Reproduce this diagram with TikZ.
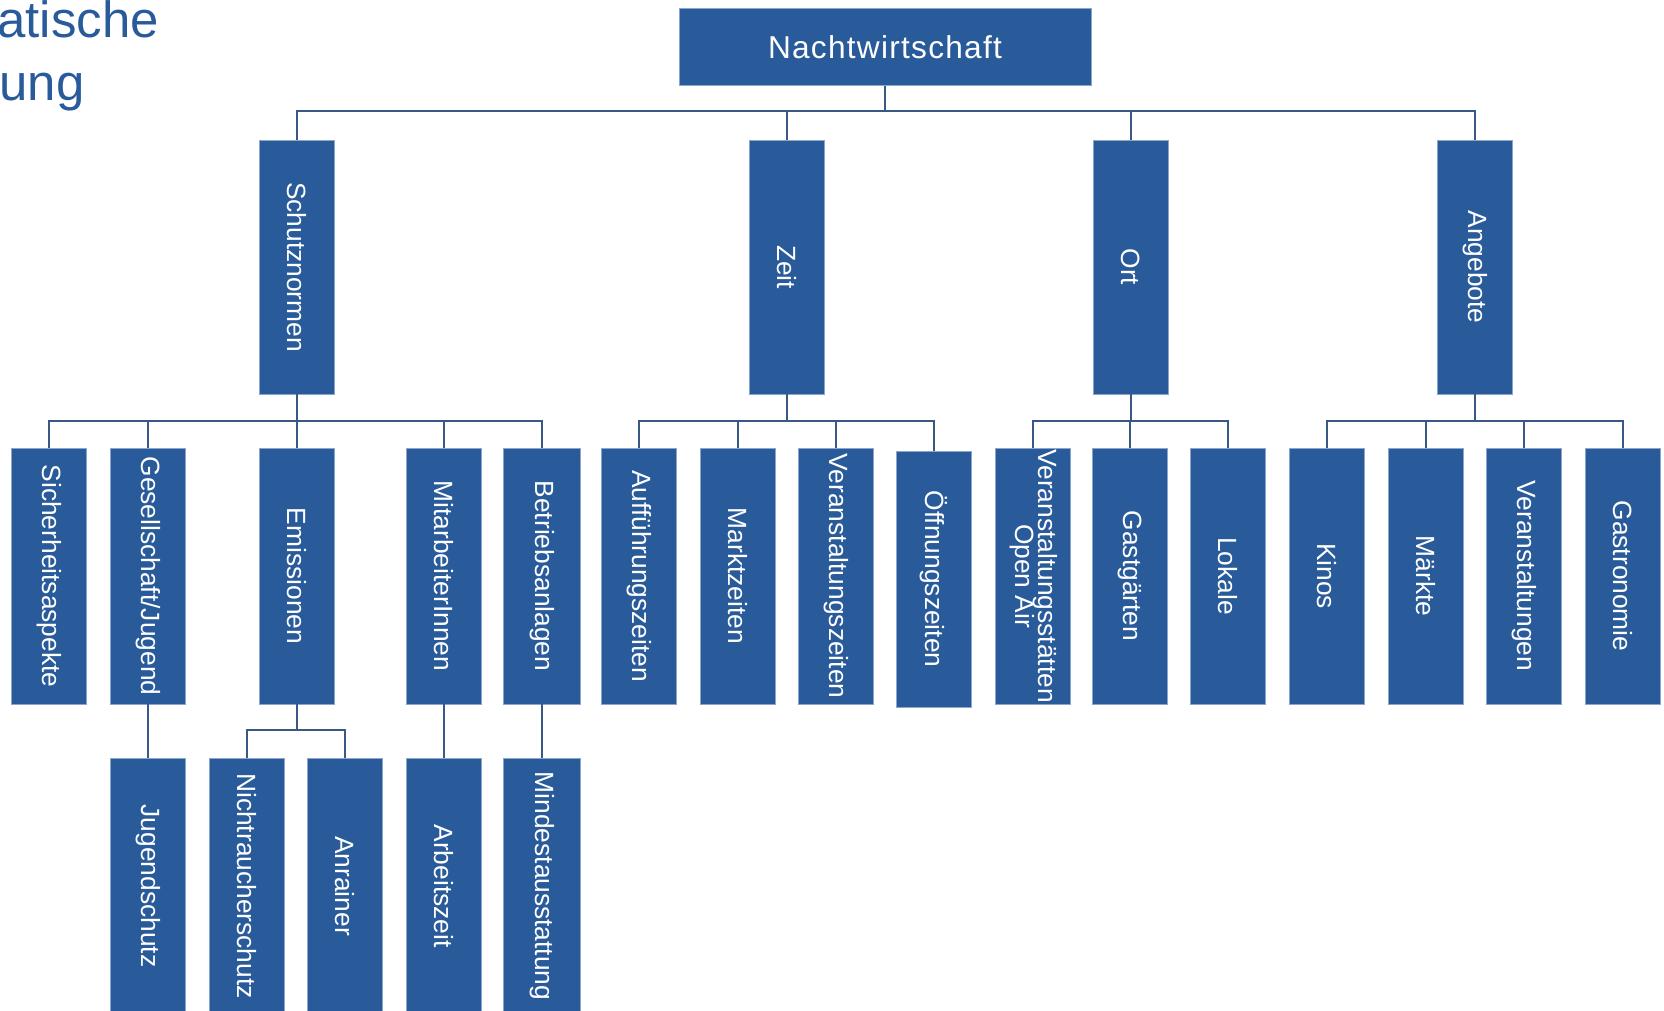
\documentclass[tikz,border=0pt]{standalone}
\usepackage{fontspec}
\setmainfont{Liberation Sans}
\usepackage{graphicx}
\usepackage{tikz}
\usetikzlibrary{calc,positioning}
\definecolor{boxblue}{RGB}{41,91,155}
\definecolor{linkblue}{RGB}{58,88,134}
\definecolor{rimblue}{RGB}{140,165,205}
\newcommand{\vtext}[1]{\rotatebox{-90}{#1}}

\begin{document}
\begin{tikzpicture}[x=0.02cm,y=-0.02cm,
  box/.style={fill=boxblue, draw=rimblue, line width=0.4pt, text=white, inner sep=0pt, font=\fontsize{15}{16}\selectfont},
  colbox/.style={box, minimum width=1.5cm, minimum height=5.12cm},
  link/.style={draw=linkblue, line width=1.2pt},
  heading/.style={anchor=base west, text=boxblue, inner sep=0pt, font=\fontsize{29}{33}\selectfont}]
\useasboundingbox (0,0) rectangle (1664,1011);
\coordinate (bus0) at (0,111);
\coordinate (bus1) at (0,421);
\coordinate (bus2) at (0,730);
\node[heading] (head1) at (-3,37) {atische};
\node[heading] (head2) at (-1,100) {ung};
\node[box, minimum width=8.24cm, minimum height=1.54cm, font=\fontsize{18}{20}\selectfont\addfontfeatures{LetterSpace=4}] (nacht) at (885,47) {Nachtwirtschaft};
\node[colbox, minimum height=5.08cm] (schutz) at (297,267) {\vtext{Schutznormen}};
\node[colbox, minimum height=5.08cm] (zeit) at (787,267) {\vtext{Zeit}};
\node[colbox, minimum height=5.08cm] (ort) at (1131,267) {\vtext{Ort}};
\node[colbox, minimum height=5.08cm] (angeb) at (1475,267) {\vtext{Angebote}};
\node[colbox] (sicher) at (49,576) {\vtext{Sicherheitsaspekte}};
\node[colbox] (gesell) at (148,576) {\vtext{Gesellschaft/Jugend}};
\node[colbox] (emiss) at (297,576) {\vtext{Emissionen}};
\node[colbox] (mitarb) at (444,576) {\vtext{MitarbeiterInnen}};
\node[colbox, minimum width=1.54cm] (betrieb) at (542,576) {\vtext{Betriebsanlagen}};
\node[colbox] (auff) at (639,576) {\vtext{Aufführungszeiten}};
\node[colbox] (markt) at (738,576) {\vtext{Marktzeiten}};
\node[colbox] (veranz) at (836,576) {\vtext{Veranstaltungszeiten}};
\node[colbox] (oeffn) at (934,579) {\vtext{Öffnungszeiten}};
\node[colbox] (openair) at (1033,576) {\vtext{\begin{tabular}{@{}c@{}}Veranstaltungsstätten\\[-3pt]Open Air\end{tabular}}};
\node[colbox] (gastg) at (1130,576) {\vtext{Gastgärten}};
\node[colbox] (lokale) at (1228,576) {\vtext{Lokale}};
\node[colbox] (kinos) at (1327,576) {\vtext{Kinos}};
\node[colbox] (maerkte) at (1426,576) {\vtext{Märkte}};
\node[colbox] (verans) at (1524,576) {\vtext{Veranstaltungen}};
\node[colbox] (gastro) at (1623,576) {\vtext{Gastronomie}};
\node[colbox] (jugend) at (148,886) {\vtext{Jugendschutz}};
\node[colbox] (nicht) at (247,886) {\vtext{Nichtraucherschutz}};
\node[colbox] (anrain) at (345,886) {\vtext{Anrainer}};
\node[colbox] (arbeit) at (444,886) {\vtext{Arbeitszeit}};
\node[colbox, minimum width=1.54cm] (mindest) at (542,886) {\vtext{Mindestausstattung}};
\draw[link] (nacht.south) -- (nacht.south |- bus0);
\draw[link] (schutz.north) |- (angeb.north |- bus0) -- (angeb.north);
\foreach \n in {zeit,ort} \draw[link] (\n.north) -- (\n.north |- bus0);
\draw[link] (schutz.south) -- (schutz.south |- bus1);
\draw[link] (sicher.north) |- (betrieb.north |- bus1) -- (betrieb.north);
\foreach \n in {gesell,emiss,mitarb} \draw[link] (\n.north) -- (\n.north |- bus1);
\draw[link] (zeit.south) -- (zeit.south |- bus1);
\draw[link] (auff.north) |- (oeffn.north |- bus1) -- (oeffn.north);
\foreach \n in {markt,veranz} \draw[link] (\n.north) -- (\n.north |- bus1);
\draw[link] (ort.south) -- (ort.south |- bus1);
\draw[link] (openair.north) |- (lokale.north |- bus1) -- (lokale.north);
\draw[link] (gastg.north) -- (gastg.north |- bus1);
\draw[link] (angeb.south) -- (angeb.south |- bus1);
\draw[link] (kinos.north) |- (gastro.north |- bus1) -- (gastro.north);
\foreach \n in {maerkte,verans} \draw[link] (\n.north) -- (\n.north |- bus1);
\draw[link] (gesell.south) -- (jugend.north);
\draw[link] (emiss.south) -- (emiss.south |- bus2);
\draw[link] (nicht.north) |- (anrain.north |- bus2) -- (anrain.north);
\draw[link] (mitarb.south) -- (arbeit.north);
\draw[link] (betrieb.south) -- (mindest.north);
\end{tikzpicture}
\end{document}
